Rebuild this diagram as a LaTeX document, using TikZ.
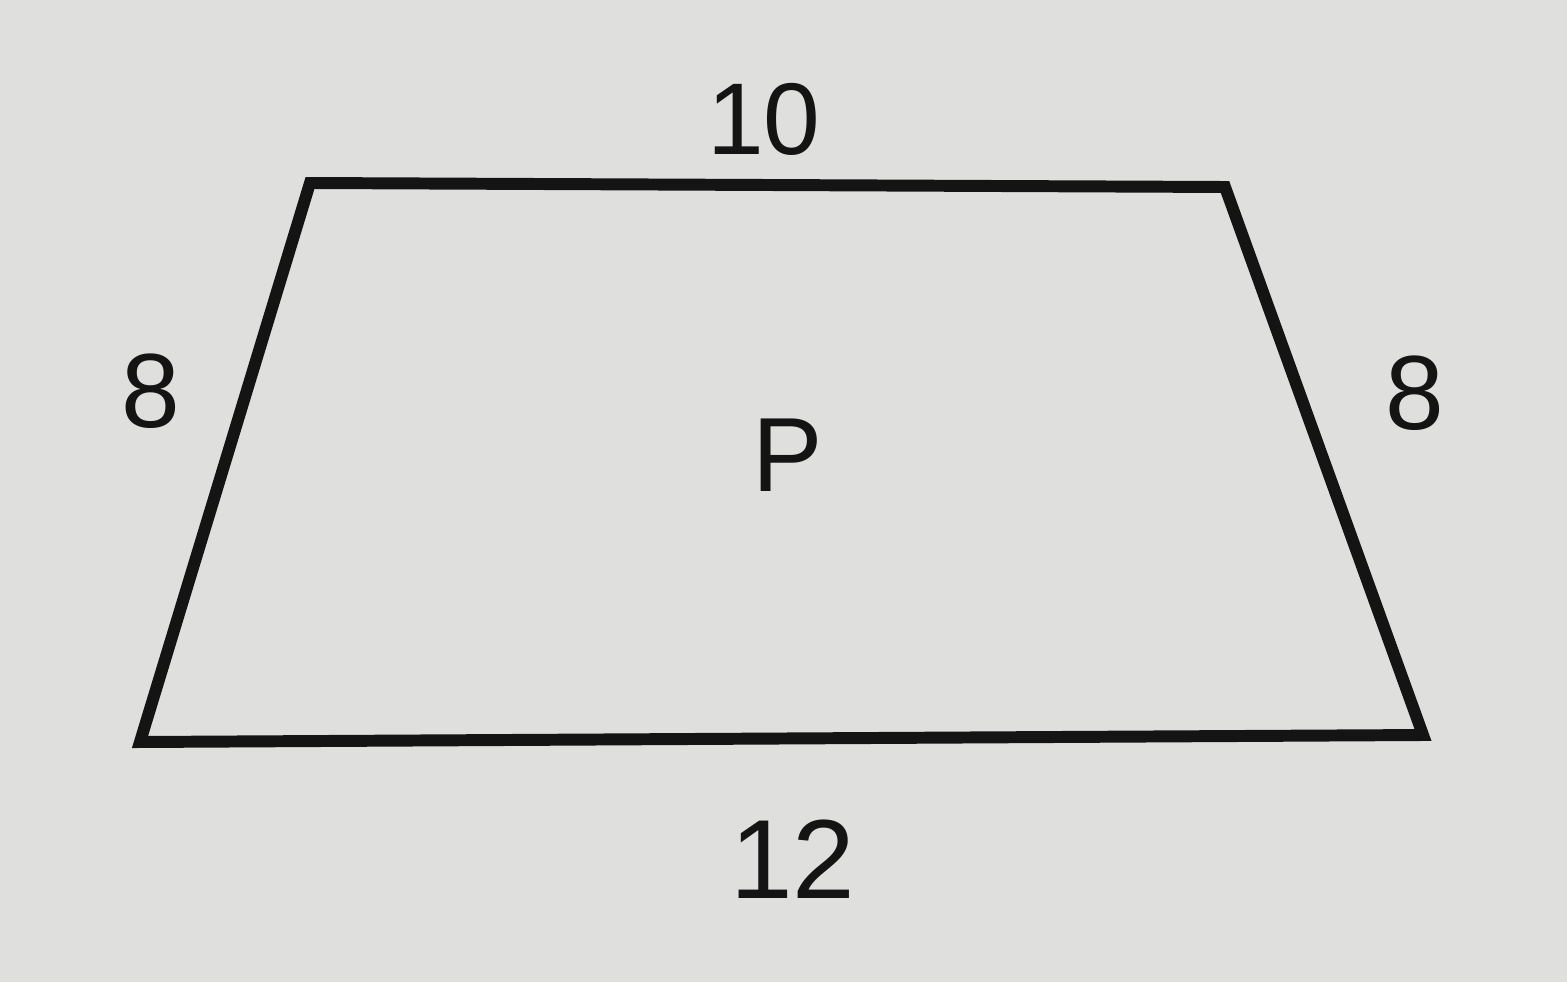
\documentclass[tikz,border=0pt]{standalone}
\usepackage{fontspec}
\setmainfont{Liberation Sans}
\definecolor{paper}{RGB}{223,223,221}
\definecolor{ink}{RGB}{20,20,20}
\begin{document}
\begin{tikzpicture}[x=0.01cm,y=-0.01cm,
    side/.style={draw=ink,line width=3.4pt,line join=miter},
    lbl/.style={text=ink,inner sep=0pt,font=\fontsize{29}{34}\selectfont}]
    \fill[paper] (0,0) rectangle (1567,982);
    \useasboundingbox (0,0) rectangle (1567,982);
    \coordinate (tl) at (310,183);
    \coordinate (tr) at (1225,187);
    \coordinate (br) at (1423,735);
    \coordinate (bl) at (140,742);
    \draw[side] (tl)--(tr)--(br)--(bl)--cycle;
    \node[lbl] (top) at (764,119) {10};
    \node[lbl,font=\fontsize{32}{36}\selectfont] (bot) at (793,859) {12};
    \node[lbl,font=\fontsize{30}{34}\selectfont] (left) at (151,391) {8};
    \node[lbl,font=\fontsize{30}{34}\selectfont] (right) at (1415,393) {8};
    \node[lbl,font=\fontsize{30}{34}\selectfont] (area) at (788,455) {P};
\end{tikzpicture}
\end{document}
